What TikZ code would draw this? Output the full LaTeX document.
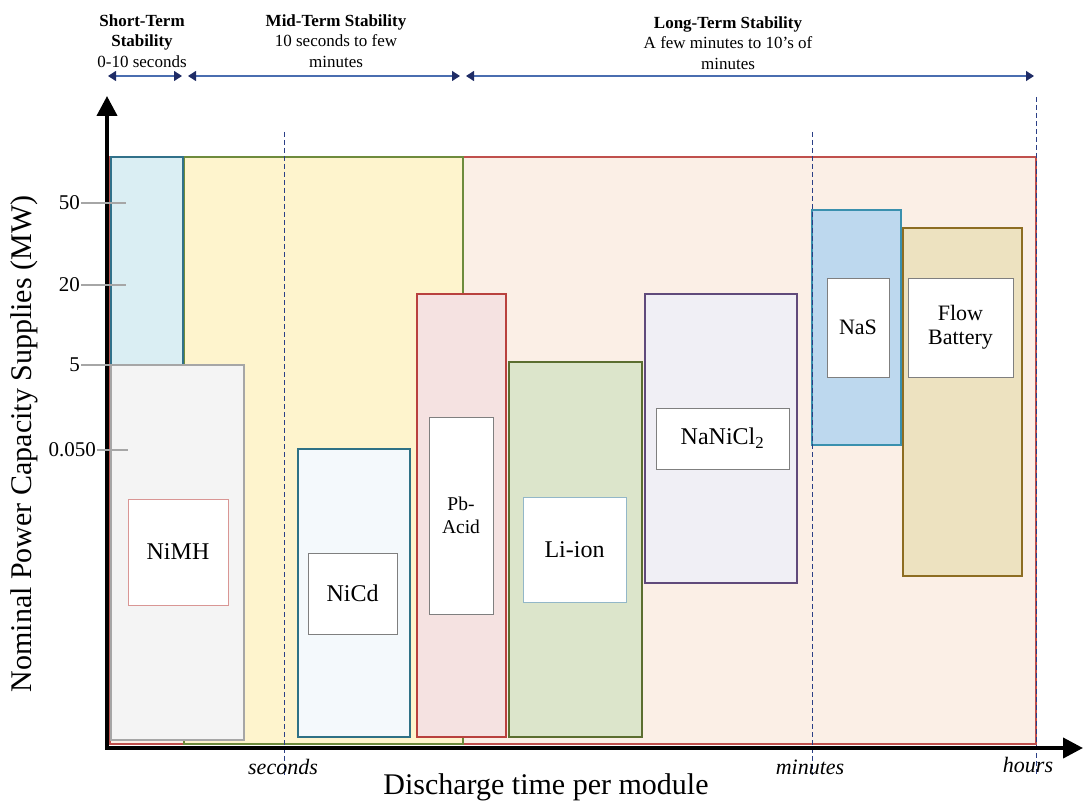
\documentclass[tikz,border=0pt]{standalone}
\usepackage{fontspec}
\setmainfont{Liberation Serif}
\usetikzlibrary{arrows.meta}
\definecolor{longfill}{HTML}{FBEFE6}
\definecolor{longline}{HTML}{C0504D}
\definecolor{midfill}{HTML}{FEF4CD}
\definecolor{midline}{HTML}{6E8B3D}
\definecolor{shortfill}{HTML}{DAEEF3}
\definecolor{shortline}{HTML}{31718A}
\definecolor{nimhfill}{HTML}{F4F4F4}
\definecolor{nimhline}{HTML}{A6A6A6}
\definecolor{nimhtag}{HTML}{D99694}
\definecolor{nicdfill}{HTML}{F4F9FC}
\definecolor{nicdline}{HTML}{2E7186}
\definecolor{pbfill}{HTML}{F5E2E1}
\definecolor{pbline}{HTML}{B9413E}
\definecolor{lifill}{HTML}{DCE5CB}
\definecolor{liline}{HTML}{5B6E30}
\definecolor{litag}{HTML}{93B7C8}
\definecolor{naclfill}{HTML}{F0EFF5}
\definecolor{naclline}{HTML}{604A7B}
\definecolor{nasfill}{HTML}{BDD8EE}
\definecolor{nasline}{HTML}{3A90AE}
\definecolor{flowfill}{HTML}{EDE2C0}
\definecolor{flowline}{HTML}{8D6D22}
\definecolor{tagline}{HTML}{7F7F7F}
\definecolor{timeline}{HTML}{2B3F86}
\definecolor{spanline}{HTML}{4A6DB0}
\definecolor{spantip}{HTML}{1F2C66}
\begin{document}
\begin{tikzpicture}[x=1pt,y=-1pt,
  bar/.style={line width=1.5pt},
  tag/.style={draw=tagline,fill=white,line width=1pt,inner sep=0pt,align=center,font=\fontsize{24}{27}\selectfont},
  head/.style={align=center,font=\fontsize{17}{20.5}\selectfont},
  period/.style={draw=spanline,line width=1.2pt,{Triangle[width=10pt,length=8pt,color=spantip]}-{Triangle[width=10pt,length=8pt,color=spantip]}},
  timemark/.style={draw=timeline,line width=1pt,dash pattern=on 5pt off 3pt},
  timelab/.style={font=\fontsize{22}{22}\selectfont\itshape},
  ticklab/.style={anchor=east,inner sep=1pt,font=\fontsize{21}{21}\selectfont},
  tick/.style={draw=nimhline,line width=1.2pt},
  axis/.style={line width=4pt,{Triangle[width=20pt,length=20pt]}-{Triangle[width=20pt,length=20pt]}}]
\useasboundingbox (0,0) rectangle (1083,802);

\draw[bar,draw=longline,fill=longfill] (110,157) rectangle (1036,744);
\draw[bar,draw=midline,fill=midfill] (184,157) rectangle (463,744);
\draw[bar,draw=shortline,fill=shortfill] (111,157) rectangle (183,700);
\draw[bar,draw=nimhline,fill=nimhfill] (111,365) rectangle (244,740);
\draw[bar,draw=nicdline,fill=nicdfill] (298,449) rectangle (410,737);
\draw[bar,draw=pbline,fill=pbfill] (417,294) rectangle (506,737);
\draw[bar,draw=liline,fill=lifill] (509,362) rectangle (642,737);
\draw[bar,draw=naclline,fill=naclfill] (645,294) rectangle (797,583);
\draw[bar,draw=nasline,fill=nasfill] (812,210) rectangle (901,445);
\draw[bar,draw=flowline,fill=flowfill] (903,228) rectangle (1022,576);

\node[tag,draw=nimhtag,minimum width=100pt,minimum height=106pt] (nimh) at (178,552) {NiMH};
\node[tag,minimum width=89pt,minimum height=81pt] (nicd) at (352.5,593.5) {NiCd};
\node[tag,minimum width=64pt,minimum height=197pt,font=\fontsize{19.5}{23}\selectfont] (pbacid) at (461,515.5) {Pb-\\Acid};
\node[tag,draw=litag,minimum width=103pt,minimum height=105pt] (liion) at (574.5,549.5) {Li-ion};
\node[tag,minimum width=133pt,minimum height=61pt] (nanicl) at (722.5,438.5) {NaNiCl\textsubscript{2}};
\node[tag,minimum width=62pt,minimum height=99pt,font=\fontsize{22}{24}\selectfont] (nas) at (858,327.5) {NaS};
\node[tag,minimum width=105pt,minimum height=99pt,font=\fontsize{22}{24}\selectfont] (flow) at (960.5,327.5) {Flow\\Battery};

\coordinate (secT) at (284,132);
\coordinate (secB) at (284,775);
\coordinate (minT) at (812,132);
\coordinate (minB) at (812,775);
\coordinate (hrsT) at (1036,97);
\coordinate (hrsB) at (1036,775);
\draw[timemark] (secT) -- (secB);
\draw[timemark] (minT) -- (minB);
\draw[timemark] (hrsT) -- (hrsB);

\coordinate (ytip) at (107,96);
\coordinate (orig) at (107,748);
\coordinate (xtip) at (1083,748);
\draw[axis] (ytip) -- (orig) -- (xtip);

\node[ticklab] (t50) at (81,203) {50};
\node[ticklab] (t20) at (81,285) {20};
\node[ticklab] (t5) at (81,365) {5};
\node[ticklab] (t005) at (97,450) {0.050};
\draw[tick] (t50.east) -- ++(45,0);
\draw[tick] (t20.east) -- ++(45,0);
\draw[tick] (t5.east) -- ++(46,0);
\draw[tick] (t005.east) -- ++(31,0);

\node[timelab] (seclab) at (283,767) {seconds};
\node[timelab] (minlab) at (810,767) {minutes};
\node[timelab] (hrslab) at (1028,765) {hours};

\node[font=\fontsize{30}{30}\selectfont] (xlab) at (546,787) {Discharge time per module};
\node[rotate=90,font=\fontsize{30}{30}\selectfont] (ylab) at (24,444) {Nominal Power Capacity Supplies (MW)};

\node[head] (short) at (142,41) {\textbf{Short-Term}\\\textbf{Stability}\\0-10 seconds};
\node[head] (mid) at (336,41) {\textbf{Mid-Term Stability}\\10 seconds to few\\minutes};
\node[head] (long) at (728,43) {\textbf{Long-Term Stability}\\A few minutes to 10's of\\minutes};

\coordinate (st0) at (108,76);
\coordinate (st1) at (182,76);
\coordinate (mt0) at (188,76);
\coordinate (mt1) at (460,76);
\coordinate (lt0) at (466,76);
\coordinate (lt1) at (1034,76);
\draw[period] (st0) -- (st1);
\draw[period] (mt0) -- (mt1);
\draw[period] (lt0) -- (lt1);
\end{tikzpicture}
\end{document}
